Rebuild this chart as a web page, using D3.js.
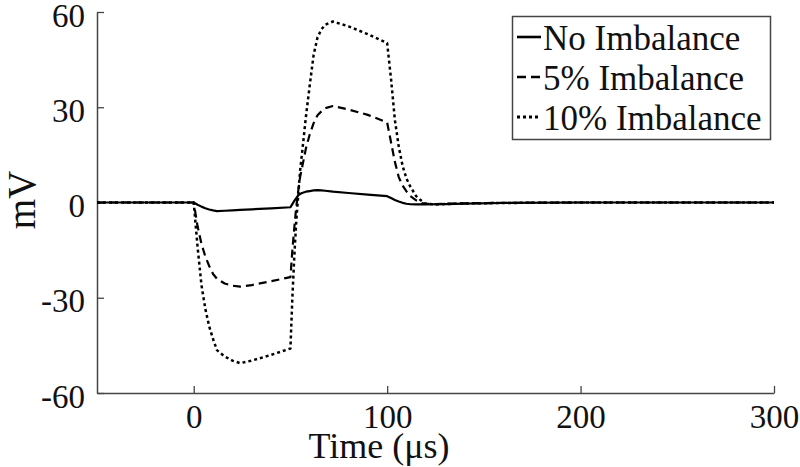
<!DOCTYPE html>
<html>
<head>
<meta charset="utf-8">
<script src="https://cdn.jsdelivr.net/npm/d3@7"></script>
<style>
  html, body { margin: 0; padding: 0; background: #fff; }
  svg { display: block; font-family: "Liberation Serif", "Times New Roman", serif; }
</style>
</head>
<body>
<svg id="chart" width="800" height="467"></svg>
<script>
// ---- data ----
const time = [-50, 0, 2, 4, 6, 8, 10, 12, 16, 20, 24, 30, 40, 50, 51, 52, 53, 54, 55, 56, 58, 60, 62, 64, 66, 68, 72, 80, 90, 100, 102, 104, 106, 108, 110, 112, 115, 118, 120, 125, 130, 140, 160, 200, 250, 300];

const noImbalance = [0, 0, -0.7, -1.3, -1.8, -2.2, -2.5, -2.7, -2.6, -2.45, -2.35, -2.15, -1.85, -1.5, -0.5, 0.5, 1.4, 2.2, 2.7, 3.0, 3.4, 3.6, 3.8, 3.9, 3.8, 3.7, 3.4, 3.0, 2.5, 2.0, 1.4, 0.8, 0.3, -0.1, -0.4, -0.55, -0.6, -0.6, -0.6, -0.55, -0.5, -0.35, -0.15, 0, 0, 0];

const imb5 = [0, 0, -7.5, -13, -17, -20, -22.5, -24, -25.5, -26.2, -26.5, -26, -24.8, -23.5, -15, -8, -1.5, 3.5, 8, 11, 17, 21.5, 25, 27.5, 28.7, 29.7, 30.4, 29.3, 27.6, 25.2, 19, 12.8, 8, 5.3, 3.5, 2, 0.7, -0.2, -0.4, -0.5, -0.4, -0.25, -0.1, 0, 0, 0];

const imb10 = [0, 0, -14, -26, -33.5, -39, -43, -46.5, -48.5, -49.8, -50.6, -49.8, -48, -46, -30, -17, -6, 2, 10, 15.5, 27, 37, 46.5, 52, 54.5, 56, 57, 55.5, 53, 50.2, 39, 26, 17.6, 11.5, 7.5, 5, 2, 0.4, -0.4, -0.6, -0.5, -0.3, -0.15, 0, 0, 0];

const xTicks = [0, 100, 200, 300];
const yTicks = [-60, -30, 0, 30, 60];
const seriesNames = ["No Imbalance", "5% Imbalance", "10% Imbalance"];

// ---- chart ----
const svg = d3.select("#chart");
const x = d3.scaleLinear().domain([-50, 300]).range([97, 774]);
const y = d3.scaleLinear().domain([-60, 60]).range([393, 12]);

const axisColor = "#444";
const fontFam = "Liberation Serif, Times New Roman, serif";

const styles = [
  { dash: null, width: 2.2 },
  { dash: "8,5", width: 2.2 },
  { dash: "3,3", width: 2.5 }
];
const seriesData = [noImbalance, imb5, imb10];

const line = d3.line()
  .x((d, i) => x(time[i]))
  .y(d => y(d));

// axes
const gx = svg.append("g").attr("transform", `translate(0,${y(-60)})`)
  .call(d3.axisBottom(x).tickValues(xTicks).tickSizeInner(-7).tickSizeOuter(0).tickFormat(d => String(d)));
gx.select(".domain").attr("stroke", axisColor).attr("stroke-width", 1.5);
gx.selectAll(".tick line").attr("stroke", axisColor).attr("stroke-width", 1.3);
gx.selectAll(".tick text").attr("y", 35).attr("dy", 0)
  .attr("font-size", 33).attr("fill", "#111")
  .attr("font-family", fontFam);

const gy = svg.append("g").attr("transform", `translate(${x(-50)},0)`)
  .call(d3.axisLeft(y).tickValues(yTicks).tickSizeInner(-7).tickSizeOuter(0).tickFormat(d => String(d)));
gy.select(".domain").attr("stroke", axisColor).attr("stroke-width", 1.5);
gy.selectAll(".tick line").attr("stroke", axisColor).attr("stroke-width", 1.3);
gy.selectAll(".tick text").attr("x", -12).attr("dy", 14)
  .attr("font-size", 33).attr("fill", "#111")
  .attr("font-family", fontFam);

// series lines
seriesData.forEach((vals, k) => {
  svg.append("path")
    .datum(vals)
    .attr("d", line)
    .attr("fill", "none")
    .attr("stroke", "#000")
    .attr("stroke-width", styles[k].width)
    .attr("stroke-dasharray", styles[k].dash)
    .attr("stroke-linejoin", "round");
});

// axis labels
svg.append("text")
  .attr("x", 379).attr("y", 458)
  .attr("text-anchor", "middle")
  .attr("font-size", 36).attr("fill", "#111")
  .text("Time (μs)");

svg.append("text")
  .attr("transform", "translate(35,200) rotate(-90)")
  .attr("text-anchor", "middle")
  .attr("font-size", 39).attr("fill", "#111")
  .text("mV");

// legend
const lg = svg.append("g");
lg.append("rect")
  .attr("x", 512.5).attr("y", 16.5).attr("width", 258).attr("height", 123)
  .attr("fill", "#fff").attr("stroke", axisColor).attr("stroke-width", 1.5);

seriesNames.forEach((name, k) => {
  const base = 50 + k * 40;
  lg.append("line")
    .attr("x1", 517).attr("x2", 541)
    .attr("y1", base - 13).attr("y2", base - 13)
    .attr("stroke", "#000").attr("stroke-width", styles[k].width + 0.4)
    .attr("stroke-dasharray", k === 1 ? "9,5" : styles[k].dash);
  lg.append("text")
    .attr("x", 543).attr("y", base)
    .attr("font-size", 35).attr("fill", "#111")
    .text(name);
});
</script>
</body>
</html>
